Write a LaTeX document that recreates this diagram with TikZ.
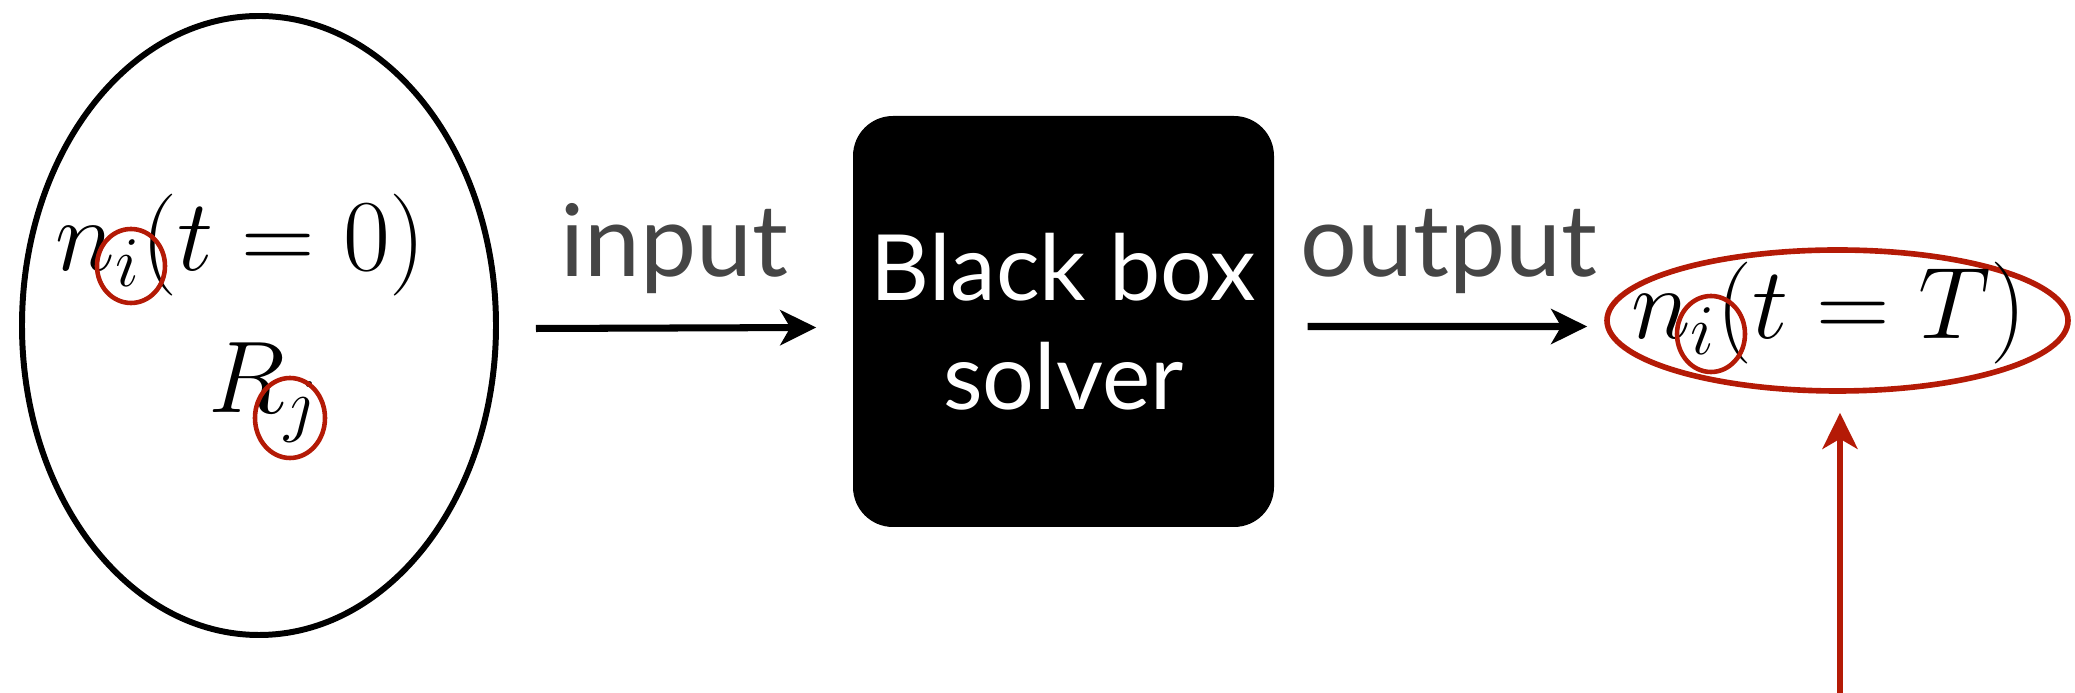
\RequirePackage{fix-cm}
\documentclass[tikz,border=0pt]{standalone}
\usepackage{amsmath}
\usepackage{fontspec}
\usepackage{tikz}
\usetikzlibrary{calc,arrows.meta,shapes.geometric}
\newfontfamily\labelfont{Lato}
\definecolor{markred}{RGB}{180,26,6}
\definecolor{labelgray}{RGB}{69,69,69}

\begin{document}
\begin{tikzpicture}[
        flow/.style={line width=2pt,-{Stealth[length=0.36cm,width=0.35cm,inset=0.1cm]}},
        ring/.style={draw=markred,ellipse,line width=1.3pt,inner sep=0pt},
        bigmath/.style={inner sep=0pt,anchor=base,font=\fontsize{29}{34}\selectfont},
        word/.style={inner sep=0pt,anchor=base,text=labelgray,font=\labelfont\fontsize{28.5}{34}\selectfont}]

                                \useasboundingbox (0,0) rectangle (20.75,6.93);

                                % initial state
                                \node [draw,ellipse,line width=1.7pt,minimum width=4.74cm,minimum height=6.19cm,inner sep=0pt] (init) at (2.59,3.675) {};
                                \node [bigmath] (nzero) at (2.41,4.22) {$n_i(t=0)$};
                                \node [bigmath] (rate) at (2.64,2.80) {$R_j$};
                                \node [ring,minimum width=0.68cm,minimum height=0.74cm] (idxi) at (1.31,4.27) {};
                                \node [ring,minimum width=0.70cm,minimum height=0.80cm] (idxj) at (2.90,2.75) {};

                                % solver
                                \node [fill=black,rounded corners=0.4cm,minimum width=4.21cm,minimum height=4.11cm,
                                       text=white,align=center,font=\labelfont\fontsize{26}{31}\selectfont] (solver) at (10.635,3.715) {Black box\\solver};
                                \node [word] (inlbl) at (6.74,4.16) {input};
                                \node [word] (outlbl) at (14.49,4.16) {output};

                                % final state
                                \node [draw=markred,ellipse,line width=1.6pt,minimum width=4.61cm,minimum height=1.41cm,inner sep=0pt] (final) at (18.375,3.725) {};
                                \node [bigmath] (nend) at (18.29,3.54) {$n_i(t=T)$};
                                \node [ring,minimum width=0.68cm,minimum height=0.76cm] (idxk) at (17.11,3.59) {};
                                \coordinate (probe) at (18.40,0);

                                \draw [flow] ([xshift=3.7mm,yshift=-0.3mm]init.east) -- ([xshift=-3.6mm,yshift=-0.6mm]solver.west);
                                \draw [flow] ([xshift=3.3mm,yshift=-0.5mm]solver.east) -- ([xshift=-1.7mm,yshift=-0.6mm]final.west);
                                \draw [flow,markred,line width=1.8pt,shorten >=1.9mm] (probe) -- (probe |- final.south);
                            \end{tikzpicture}
\end{document}
